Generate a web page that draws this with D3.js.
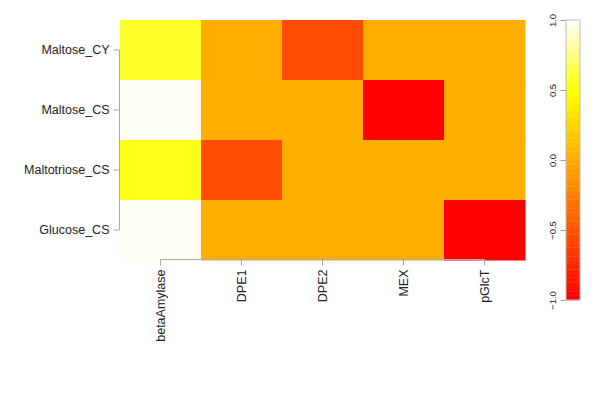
<!DOCTYPE html>
<html>
<head>
<meta charset="utf-8">
<script src="https://cdn.jsdelivr.net/npm/d3@7"></script>
<style>
body { margin: 0; background: #fff; }
text { font-family: "Liberation Sans", Arial, sans-serif; fill: #222; }
</style>
</head>
<body>
<svg id="chart" width="600" height="400"></svg>
<script>
// heatmap of correlations, heat palette like R's heat.colors

var rowNames = ["Maltose_CY", "Maltose_CS", "Maltotriose_CS", "Glucose_CS"];
var colNames = ["betaAmylase", "DPE1", "DPE2", "MEX", "pGlcT"];
var betaAmylase = [0.59, 1.0, 0.55, 1.0];
var DPE1 = [0.0, 0.0, -0.55, 0.0];
var DPE2 = [-0.55, 0.0, 0.0, 0.0];
var MEX = [0.0, -1.0, 0.0, 0.0];
var pGlcT = [0.0, 0.0, 0.0, -1.0];
var legendTicks = [-1.0, -0.5, 0.0, 0.5, 1.0];

var columns = [betaAmylase, DPE1, DPE2, MEX, pGlcT];

// R heat.colors(n)
function heatColors(n) {
	var j = Math.floor(n / 4), i = n - j, out = [];
	for (var k = 0; k < i; k++) {
		var h = (i > 1 ? k / (i - 1) : 0) * 60;
		out.push(d3.hsl(h, 1, 0.5).formatHex());
	}
	for (var k = 0; k < j; k++) {
		var s = j > 1 ? (1 - 1 / (2 * j)) - k * ((1 - 1 / j) / (j - 1)) : 0.5;
		// hsv(1/6, s, 1) -> rgb
		var b = Math.round(255 * (1 - s));
		out.push(d3.rgb(255, 255, b).formatHex());
	}
	return out;
}

var palette = heatColors(64);
var color = d3.scaleQuantize().domain([-1, 1]).range(palette);

var cells = [];
columns.forEach(function (col, ci) {
	col.forEach(function (v, ri) {
		cells.push({row: rowNames[ri], col: colNames[ci], value: v});
	});
});

var svg = d3.select("#chart");

var x = d3.scaleBand().domain(colNames).range([120, 525]);
var y = d3.scaleBand().domain(rowNames).range([20, 260]);

svg.append("g").selectAll("rect")
	.data(cells)
	.enter().append("rect")
	.attr("x", function (d) { return x(d.col); })
	.attr("y", function (d) { return y(d.row); })
	.attr("width", x.bandwidth() + 0.5)
	.attr("height", y.bandwidth() + 0.5)
	.attr("fill", function (d) { return color(d.value); });

// y axis (R style: line between first and last tick)
var yAxis = svg.append("g").attr("transform", "translate(119.5,0)")
	.call(d3.axisLeft(y).tickSize(6).tickPadding(4));
yAxis.select(".domain").remove();
yAxis.append("line")
	.attr("y1", y(rowNames[0]) + y.bandwidth() / 2)
	.attr("y2", y(rowNames[rowNames.length - 1]) + y.bandwidth() / 2)
	.attr("stroke", "#aaa");
yAxis.selectAll(".tick line").attr("stroke", "#aaa");
yAxis.selectAll(".tick text").style("font-size", "12.5px").attr("fill", "#222");

var xAxis = svg.append("g").attr("transform", "translate(0,259.5)")
	.call(d3.axisBottom(x).tickSize(6));
xAxis.select(".domain").remove();
xAxis.append("line")
	.attr("x1", x(colNames[0]) + x.bandwidth() / 2)
	.attr("x2", x(colNames[colNames.length - 1]) + x.bandwidth() / 2)
	.attr("stroke", "#aaa");
xAxis.selectAll(".tick line").attr("stroke", "#aaa");
xAxis.selectAll(".tick text")
	.style("font-size", "12.5px")
	.attr("fill", "#222")
	.attr("transform", "rotate(-90)")
	.attr("text-anchor", "end")
	.attr("x", -10)
	.attr("y", 0)
	.attr("dy", "0.35em");

// colour key
var ky = d3.scaleLinear().domain([-1, 1]).range([300, 20]);
var step = 2 / palette.length;
svg.append("g").selectAll("rect")
	.data(palette)
	.enter().append("rect")
	.attr("x", 566)
	.attr("width", 14)
	.attr("y", function (d, i) { return ky(-1 + (i + 1) * step); })
	.attr("height", function (d, i) { return ky(-1 + i * step) - ky(-1 + (i + 1) * step) + 0.3; })
	.attr("fill", function (d) { return d; });
svg.append("rect")
	.attr("x", 566).attr("y", 20).attr("width", 14).attr("height", 280)
	.attr("fill", "none").attr("stroke", "#bbb");

var kAxis = svg.append("g").attr("transform", "translate(565.5,0)")
	.call(d3.axisLeft(ky).tickValues(legendTicks).tickFormat(d3.format(".1f")).tickSize(5));
kAxis.select(".domain").remove();
kAxis.selectAll(".tick line").attr("stroke", "#999");
kAxis.selectAll(".tick text")
	.style("font-size", "9.5px")
	.attr("fill", "#333")
	.attr("transform", "rotate(-90)")
	.attr("text-anchor", "middle")
	.attr("x", 0)
	.attr("y", -10)
	.attr("dy", "0");
</script>
</body>
</html>
